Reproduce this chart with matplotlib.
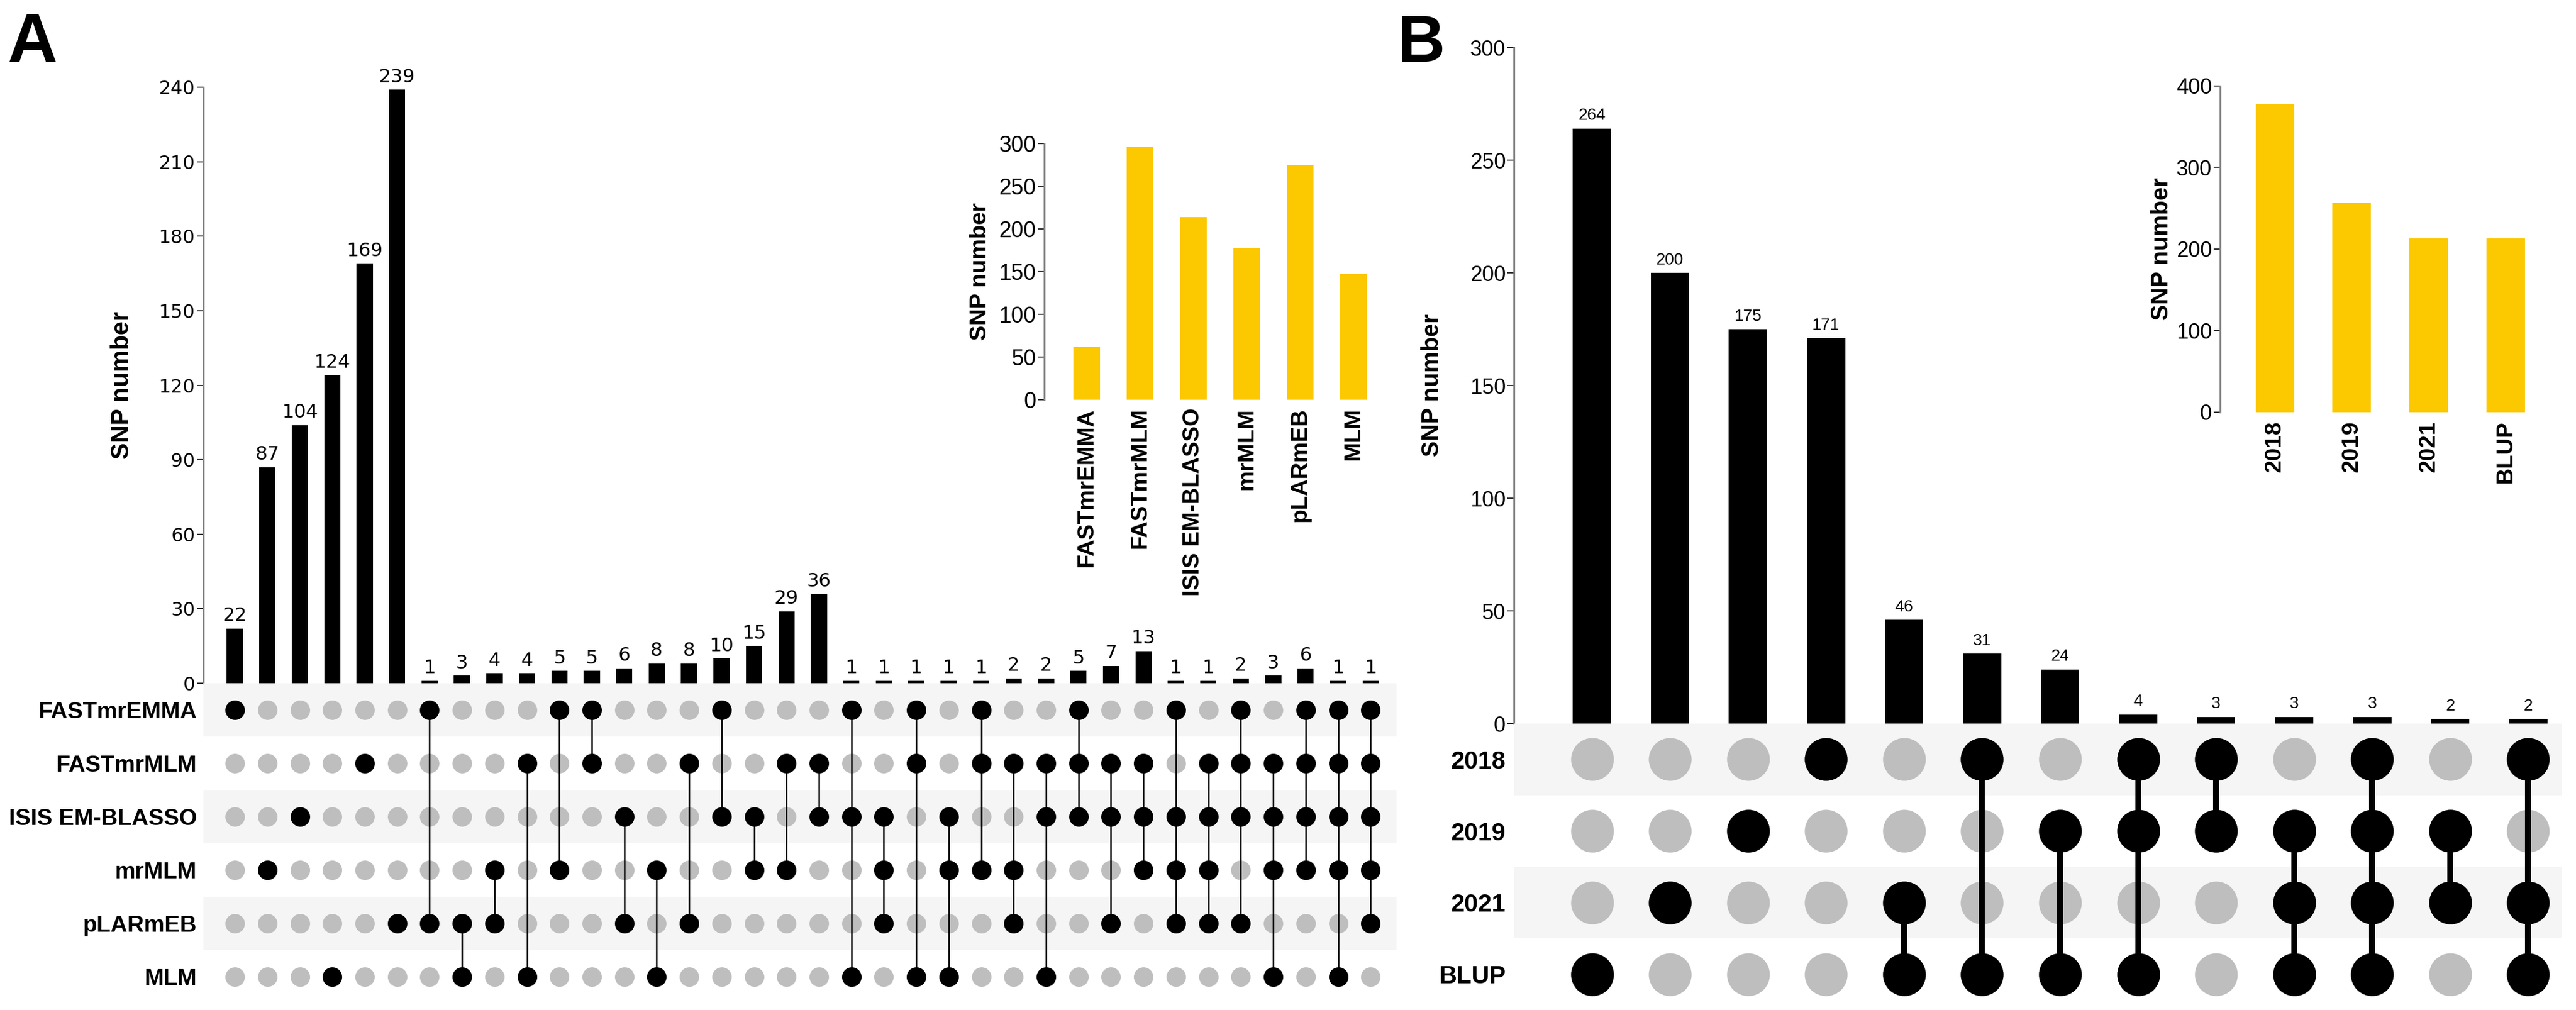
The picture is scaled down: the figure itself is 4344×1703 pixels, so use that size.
import matplotlib
matplotlib.use('Agg')
import matplotlib.pyplot as plt
import numpy as np

# ---- data ----
a_sets = ['FASTmrEMMA', 'FASTmrMLM', 'ISIS EM-BLASSO', 'mrMLM', 'pLARmEB', 'MLM']
a_counts = [22, 87, 104, 124, 169, 239, 1, 3, 4, 4, 5, 5, 6, 8, 8, 10, 15, 29, 36,
            1, 1, 1, 1, 1, 2, 2, 5, 7, 13, 1, 1, 2, 3, 6, 1, 1]
a_members = [[0], [3], [2], [5], [1], [4],
             [0, 4], [4, 5], [3, 4], [1, 5], [0, 3], [0, 1], [2, 4], [3, 5], [1, 4], [0, 2],
             [2, 3], [1, 3], [1, 2],
             [0, 2, 5], [2, 3, 4], [0, 1, 5], [2, 3, 5], [0, 1, 3], [1, 3, 4], [1, 2, 5],
             [0, 1, 2], [1, 2, 4], [1, 2, 3],
             [0, 2, 3, 4], [1, 2, 3, 4], [0, 1, 2, 4], [1, 2, 3, 5], [0, 1, 2, 3],
             [0, 1, 2, 3, 5], [0, 1, 2, 3, 4]]
a_totals = [62, 296, 214, 178, 275, 147]

b_sets = ['2018', '2019', '2021', 'BLUP']
b_counts = [264, 200, 175, 171, 46, 31, 24, 4, 3, 3, 3, 2, 2]
b_members = [[3], [2], [1], [0], [2, 3], [0, 3], [1, 3], [0, 1, 3], [0, 1],
             [1, 2, 3], [0, 1, 2, 3], [1, 2], [0, 2, 3]]
b_totals = [378, 257, 213, 213]

W, H = 4344, 1703
fig = plt.figure(figsize=(W / 100, H / 100), dpi=100)
plt.rcParams['font.family'] = ['Liberation Sans', 'DejaVu Sans']

YELLOW = '#FCC800'
DOT_GRAY = '#BEBEBE'
BAND = '#F5F5F5'
SPINE = '#7F7F7F'


def px_ax(l, t, r, b):
    return fig.add_axes([l / W, 1 - b / H, (r - l) / W, (b - t) / H])


def style_bar_axis(ax, tick_size, tick_font):
    for s in ['top', 'right', 'bottom']:
        ax.spines[s].set_visible(False)
    ax.spines['left'].set_color(SPINE)
    ax.spines['left'].set_linewidth(2.2)
    ax.tick_params(axis='y', length=8, width=1.5, color='#333333', labelsize=tick_size, pad=2)
    for lab in ax.get_yticklabels():
        lab.set_family(tick_font)
    ax.set_xticks([])
    ax.patch.set_alpha(0)


def draw_matrix(ax, sets, members, ms, lw, xlim, label_size, pad):
    n = len(sets)
    ncol = len(members)
    for i in range(n):
        if i % 2 == 0:
            ax.axhspan(i - 0.5, i + 0.5, color=BAND, zorder=0, lw=0)
    xs = np.arange(ncol)
    for i in range(n):
        ax.scatter(xs, [i] * ncol, s=ms, color=DOT_GRAY, zorder=1, lw=0)
    for j, m in enumerate(members):
        if len(m) > 1:
            ax.plot([j, j], [min(m), max(m)], color='black', lw=lw, zorder=2,
                    solid_capstyle='butt')
        ax.scatter([j] * len(m), m, s=ms, color='black', zorder=3, lw=0)
    ax.set_xlim(*xlim)
    ax.set_ylim(n - 0.5, -0.5)
    ax.set_yticks(range(n))
    ax.set_yticklabels(sets, fontsize=label_size, fontweight='bold')
    ax.tick_params(axis='y', length=0, pad=pad)
    ax.set_xticks([])
    for s in ax.spines.values():
        s.set_visible(False)


# ================= Panel A =================
a_x = np.arange(len(a_counts))
a_xlim = (-0.97, 35.8)

axA = px_ax(343, 147, 2355, 1152)
axA.bar(a_x, a_counts, width=0.5, color='black')
axA.set_xlim(*a_xlim)
axA.set_ylim(0, 240)
axA.set_yticks(range(0, 241, 30))
style_bar_axis(axA, 23, 'DejaVu Sans')
for x, v in zip(a_x, a_counts):
    axA.annotate(str(v), (x, v), xytext=(0, 4), textcoords='offset points',
                 ha='center', va='bottom', fontsize=23, family='DejaVu Sans', clip_on=False)
axA.set_ylabel('SNP number', fontsize=30, fontweight='bold', labelpad=30)

axAm = px_ax(343, 1152, 2355, 1692)
draw_matrix(axAm, a_sets, a_members, 560, 1.8, a_xlim, 28, 8)

# inset A
axAi = px_ax(1761, 242, 2330, 674)
axAi.bar(np.arange(len(a_sets)), a_totals, width=0.5, color=YELLOW)
axAi.set_xlim(-0.79, 5.53)
axAi.set_ylim(0, 300)
axAi.set_yticks(range(0, 301, 50))
style_bar_axis(axAi, 27, 'Liberation Sans')
axAi.set_xticks(np.arange(len(a_sets)))
axAi.set_xticklabels(a_sets, rotation=90, fontsize=28, fontweight='bold')
axAi.tick_params(axis='x', length=0, pad=10)
axAi.set_ylabel('SNP number', fontsize=28, fontweight='bold', labelpad=10)

fig.text(12 / W, 1 - 105 / H, 'A', fontsize=84, fontweight='bold', ha='left', va='baseline')

# ================= Panel B =================
b_x = np.arange(len(b_counts))
b_xlim = (-1.0, 12.43)

axB = px_ax(2553, 80, 4320, 1220)
axB.bar(b_x, b_counts, width=0.49, color='black')
axB.set_xlim(*b_xlim)
axB.set_ylim(0, 300)
axB.set_yticks(range(0, 301, 50))
style_bar_axis(axB, 26, 'Liberation Sans')
for x, v in zip(b_x, b_counts):
    axB.annotate(str(v), (x, v), xytext=(0, 6), textcoords='offset points',
                 ha='center', va='bottom', fontsize=20, clip_on=False)
axB.set_ylabel('SNP number', fontsize=29, fontweight='bold', labelpad=32)

axBm = px_ax(2553, 1220, 4320, 1703)
draw_matrix(axBm, b_sets, b_members, 2700, 7.2, b_xlim, 30, 10)

# inset B
axBi = px_ax(3744, 145, 4290, 695)
axBi.bar(np.arange(len(b_sets)), b_totals, width=0.5, color=YELLOW)
axBi.set_xlim(-0.71, 3.5)
axBi.set_ylim(0, 400)
axBi.set_yticks(range(0, 401, 100))
style_bar_axis(axBi, 26, 'Liberation Sans')
axBi.set_xticks(np.arange(len(b_sets)))
axBi.set_xticklabels(b_sets, rotation=90, fontsize=28, fontweight='bold')
axBi.tick_params(axis='x', length=0, pad=10)
axBi.set_ylabel('SNP number', fontsize=29, fontweight='bold', labelpad=4)

fig.text(2357 / W, 1 - 104 / H, 'B', fontsize=80, fontweight='bold', ha='left', va='baseline')

fig.savefig('out.png', dpi=100)
